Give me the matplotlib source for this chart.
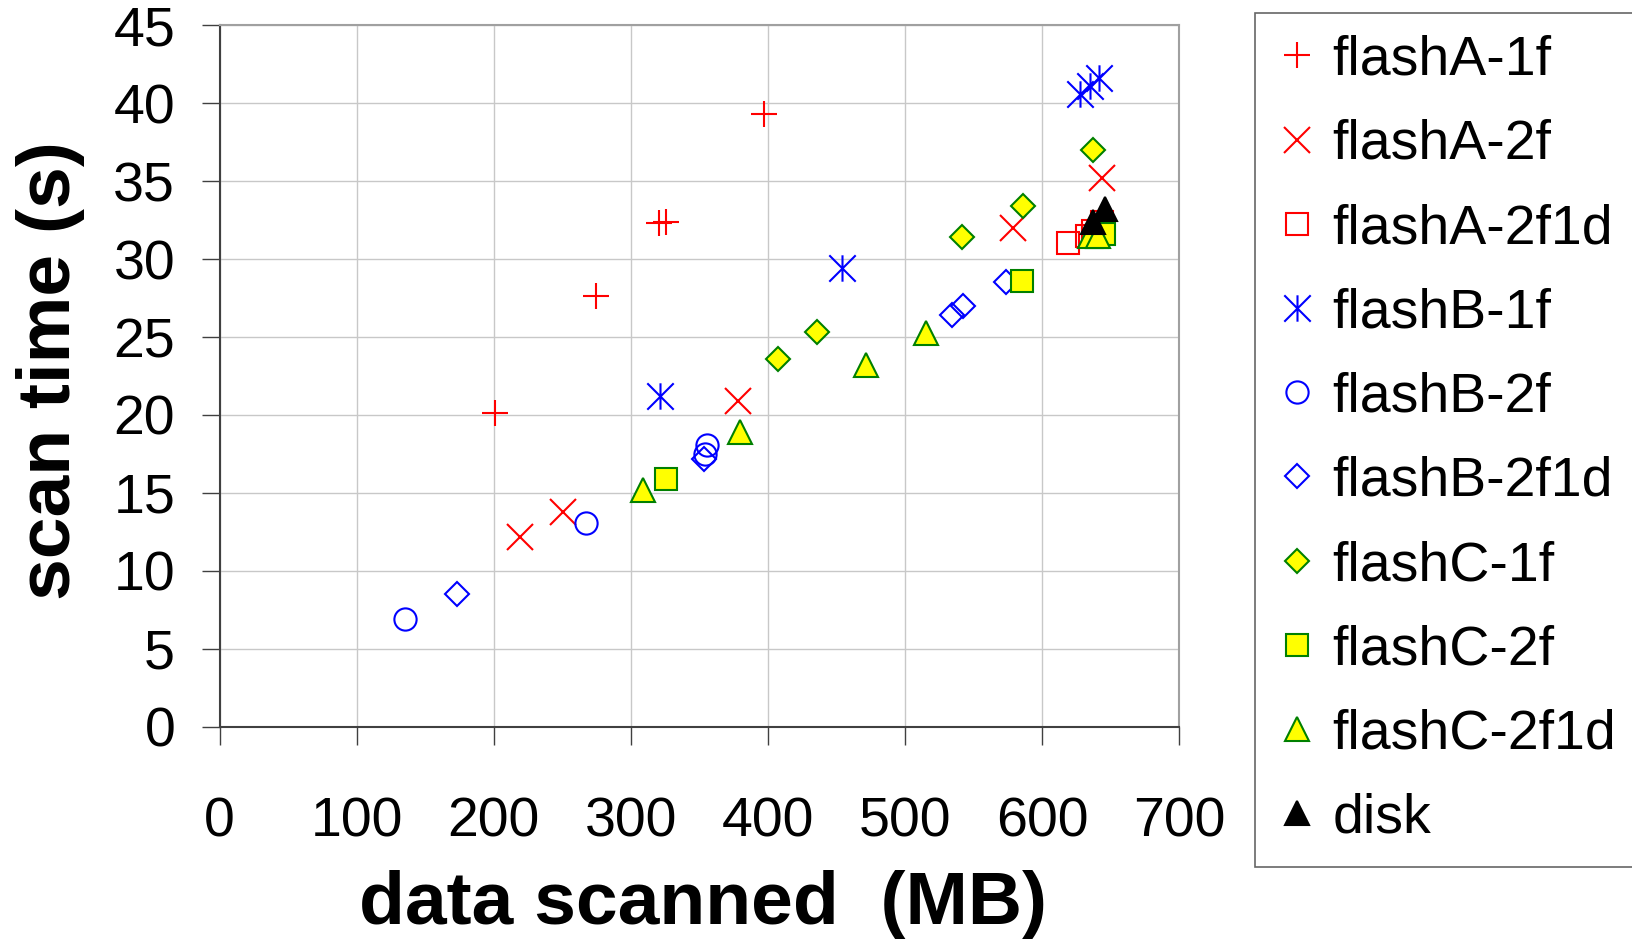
import matplotlib
matplotlib.use('Agg')
import matplotlib.pyplot as plt
from matplotlib.path import Path

plt.rcParams['font.family'] = ['Liberation Sans', 'DejaVu Sans']

# data: (MB scanned, seconds)
flashA_1f_x = [200.6, 274.5, 320.8, 325.6, 397.0]
flashA_1f_y = [20.1, 27.6, 32.3, 32.4, 39.3]

flashA_2f_x = [218.8, 250.6, 377.9, 578.6, 643.8]
flashA_2f_y = [12.2, 13.8, 20.9, 32.0, 35.2]

flashA_2f1d_x = [618.7, 633.0, 637.0, 643.5]
flashA_2f1d_y = [31.0, 31.5, 31.8, 32.4]

flashB_1f_x = [321.2, 453.8, 628.0, 635.0, 641.8]
flashB_1f_y = [21.2, 29.4, 40.6, 41.1, 41.6]

flashB_2f_x = [135.0, 267.5, 354.2, 355.4]
flashB_2f_y = [6.9, 13.1, 17.5, 18.1]

flashB_2f1d_x = [172.9, 353.2, 534.6, 542.3, 573.7]
flashB_2f1d_y = [8.5, 17.2, 26.4, 27.0, 28.5]

flashC_1f_x = [407.5, 435.9, 541.8, 585.9, 637.0]
flashC_1f_y = [23.6, 25.3, 31.4, 33.4, 37.0]

flashC_2f_x = [325.8, 585.4, 640.0, 645.0]
flashC_2f_y = [15.9, 28.6, 31.4, 31.6]

flashC_2f1d_x = [308.8, 379.5, 471.3, 515.5, 635.0, 641.0]
flashC_2f1d_y = [15.2, 18.9, 23.2, 25.25, 31.45, 31.5]

disk_x = [637.4, 646.0]
disk_y = [32.4, 33.2]

x_ticks = [0, 100, 200, 300, 400, 500, 600, 700]
y_ticks = [0, 5, 10, 15, 20, 25, 30, 35, 40, 45]

# Excel style asterisk: vertical bar plus an X
star = Path([(0, -1), (0, 1), (-1, -1), (1, 1), (-1, 1), (1, -1)],
            [Path.MOVETO, Path.LINETO, Path.MOVETO, Path.LINETO,
             Path.MOVETO, Path.LINETO])

fig = plt.figure(figsize=(16.33, 9.40), dpi=100)
ax = fig.add_axes([0.1345, 0.2266, 0.5875, 0.7468])

lw = 1.5
ax.plot(flashA_1f_x, flashA_1f_y, ls='none', marker='+', ms=18.5, mew=lw,
        color='#FF0000', label='flashA-1f')
ax.plot(flashA_2f_x, flashA_2f_y, ls='none', marker='x', ms=18.5, mew=lw,
        color='#FF0000', label='flashA-2f')
ax.plot(flashA_2f1d_x, flashA_2f1d_y, ls='none', marker='s', ms=16, mew=lw,
        mfc='none', mec='#FF0000', label='flashA-2f1d')
ax.plot(flashB_1f_x, flashB_1f_y, ls='none', marker=star, ms=19, mew=lw,
        color='#0000FF', label='flashB-1f')
ax.plot(flashB_2f_x, flashB_2f_y, ls='none', marker='o', ms=16, mew=lw,
        mfc='none', mec='#0000FF', label='flashB-2f')
ax.plot(flashB_2f1d_x, flashB_2f1d_y, ls='none', marker='D', ms=12.5, mew=lw,
        mfc='none', mec='#0000FF', label='flashB-2f1d')
ax.plot(flashC_1f_x, flashC_1f_y, ls='none', marker='D', ms=12.5, mew=lw,
        mfc='#FFFF00', mec='#008000', label='flashC-1f')
ax.plot(flashC_2f_x, flashC_2f_y, ls='none', marker='s', ms=16, mew=lw,
        mfc='#FFFF00', mec='#008000', label='flashC-2f')
ax.plot(flashC_2f1d_x, flashC_2f1d_y, ls='none', marker='^', ms=17, mew=lw,
        mfc='#FFFF00', mec='#008000', label='flashC-2f1d')
ax.plot(disk_x, disk_y, ls='none', marker='^', ms=17, mew=lw,
        color='black', label='disk')

ax.set_xlim(0, 700)
ax.set_ylim(0, 45)
ax.set_xticks(x_ticks)
ax.set_yticks(y_ticks)
ax.grid(True, color='#C8C8C8', lw=1.0)
ax.set_axisbelow(True)
for side in ['top', 'right']:
    ax.spines[side].set_color('#A0A0A0')
    ax.spines[side].set_linewidth(1.5)
for side in ['left', 'bottom']:
    ax.spines[side].set_color('#404040')
    ax.spines[side].set_linewidth(1.5)
ax.tick_params(axis='both', direction='out', length=13, width=1.0,
               color='#404040', labelsize=40)
ax.tick_params(axis='x', pad=37)
ax.tick_params(axis='y', pad=19)

fig.text(0.031, 0.606, 'scan time (s)', rotation=90, ha='center',
         va='center', fontsize=54, fontweight='bold')
fig.text(0.4305, 0.038, 'data scanned  (MB)', ha='center', va='center',
         fontsize=54, fontweight='bold')

leg = fig.legend(loc='upper left', bbox_to_anchor=(0.7685, 0.9867),
                 fontsize=40, frameon=True, fancybox=False, numpoints=1,
                 handlelength=0.7, handletextpad=0.3, labelspacing=0.58,
                 borderpad=0.4, borderaxespad=0)
leg.get_frame().set_edgecolor('#404040')
leg.get_frame().set_linewidth(1.2)

fig.savefig('out.png', dpi=100)
